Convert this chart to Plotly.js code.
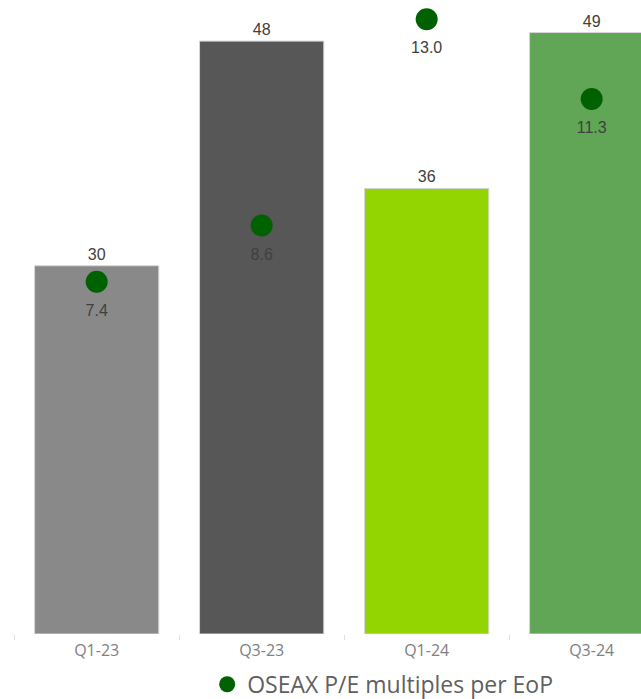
<!DOCTYPE html>
<html>
<head>
<meta charset="utf-8">
<script src="https://cdn.plot.ly/plotly-3.0.1.min.js"></script>
<style>html,body{margin:0;padding:0;background:#fff;}#chart{width:641px;height:699px;}</style>
</head>
<body>
<div id="chart"></div>
<script>
var categories = ["Q1-23", "Q3-23", "Q1-24", "Q3-24"];
var barValues = [30, 48.3, 36.3, 49];
var barColors = ["#898989", "#575757", "#93D500", "#61A656"];
var peValues = [7.4, 8.6, 13.0, 11.3];
var peLabels = ["7.4", "8.6", "13.0", "11.3"];
var seriesName = "OSEAX P/E multiples per EoP";

var labelFont = {family: "Liberation Sans, Arial, sans-serif", size: 16, color: "#404040"};

var bars = {
  type: "bar",
  x: categories,
  y: barValues,
  marker: {color: barColors, line: {color: "#d6d6d6", width: 1}},
  texttemplate: "%{y:.0f}",
  textposition: "outside",
  textfont: labelFont,
  cliponaxis: false,
  showlegend: false,
  hoverinfo: "skip"
};
var dotLabels = {
  type: "scatter",
  mode: "markers+text",
  x: categories,
  y: peValues,
  yaxis: "y2",
  text: peLabels,
  textposition: "bottom center",
  textfont: labelFont,
  marker: {size: 34, color: "rgba(0,0,0,0)"},
  cliponaxis: false,
  showlegend: false,
  hoverinfo: "skip"
};
var dots = {
  type: "scatter",
  mode: "markers",
  x: categories,
  y: peValues,
  yaxis: "y2",
  name: seriesName,
  marker: {color: "#006100", size: 22},
  cliponaxis: false,
  showlegend: true
};

var layout = {
  width: 641, height: 699,
  margin: {l: 0, r: 0, t: 0, b: 65},
  paper_bgcolor: "#ffffff",
  plot_bgcolor: "#ffffff",
  bargap: 0.247,
  xaxis: {
    type: "category",
    range: [-0.586, 3.299],
    tickson: "boundaries",
    ticks: "outside",
    ticklen: 5,
    tickcolor: "#e0e0e0",
    ticklabelstandoff: 5,
    showline: false,
    showgrid: false,
    tickfont: {family: "Open Sans, sans-serif", size: 16, color: "#808080"},
    fixedrange: true
  },
  yaxis: {
    range: [0, 51.65],
    visible: false,
    showgrid: false,
    zeroline: false
  },
  yaxis2: {
    overlaying: "y",
    side: "right",
    range: [-0.115, 13.41],
    visible: false,
    showgrid: false,
    zeroline: false
  },
  showlegend: true,
  legend: {
    orientation: "h",
    xref: "container", yref: "container",
    x: 0.597, xanchor: "center",
    y: 0.021, yanchor: "middle",
    bgcolor: "rgba(0,0,0,0)",
    font: {family: "Open Sans, sans-serif", size: 23, color: "#5f5f5f"},
    itemsizing: "trace",
    itemwidth: 30
  }
};

Plotly.newPlot("chart", [bars, dotLabels, dots], layout, {displayModeBar: false, staticPlot: true});
</script>
</body>
</html>
